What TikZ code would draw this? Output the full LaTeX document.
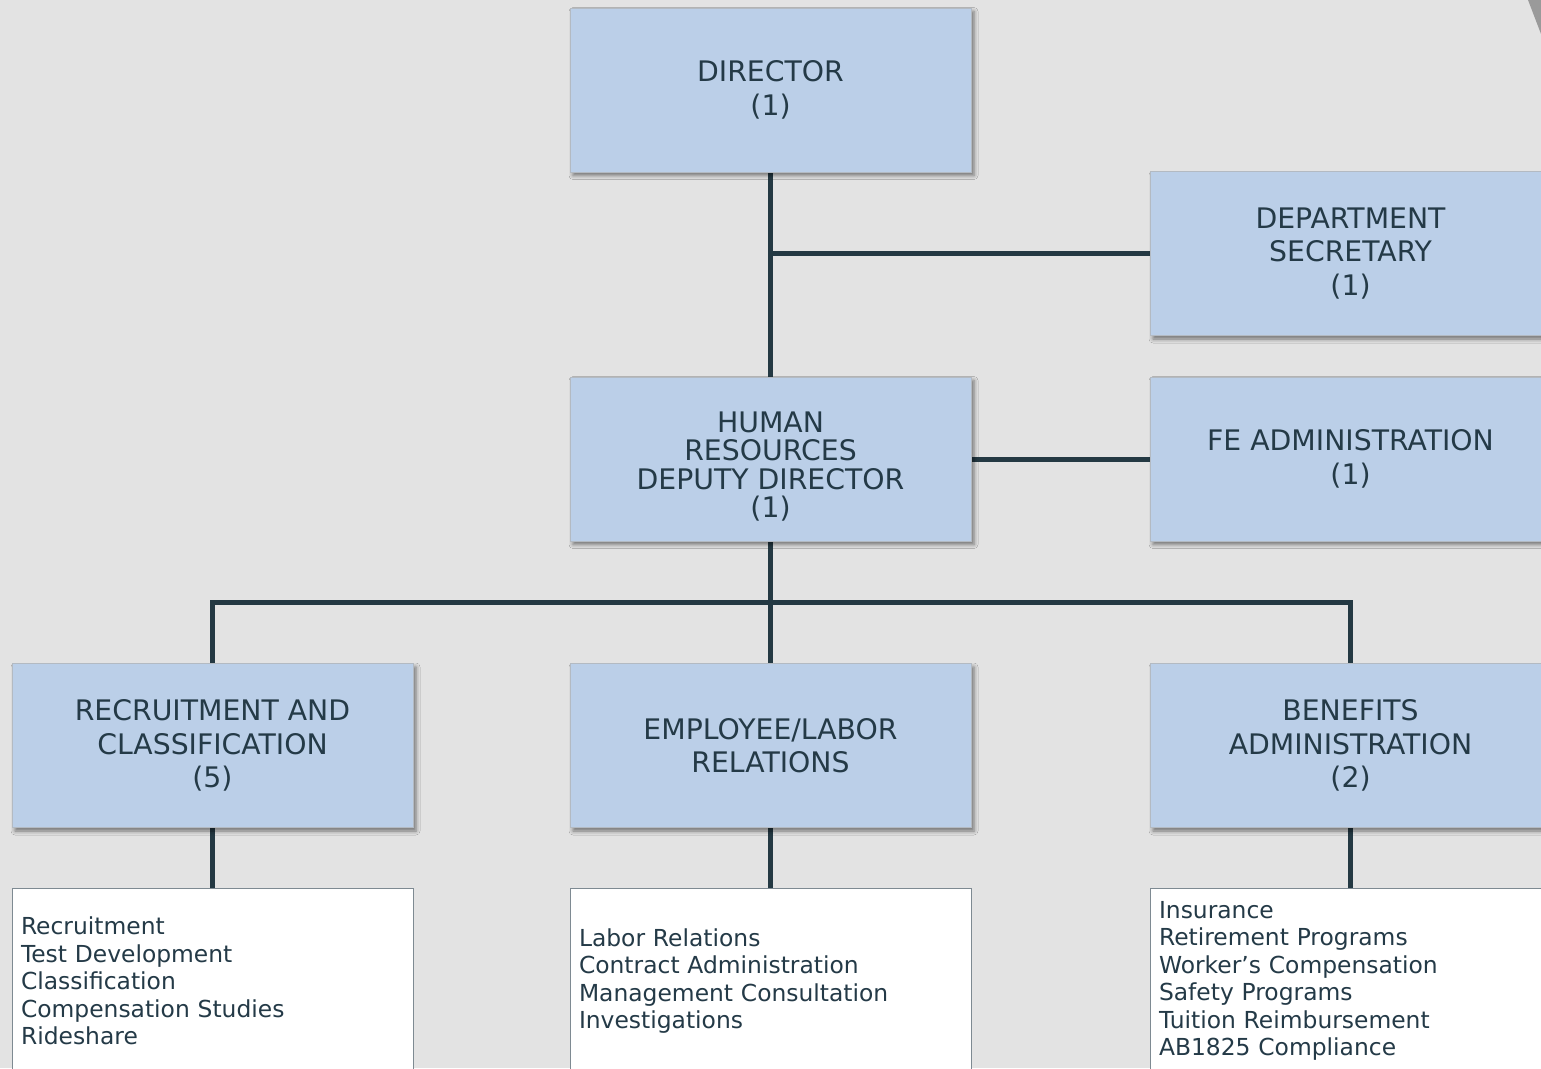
\documentclass[tikz,border=0pt]{standalone}
\usepackage{fontspec}
\setmainfont{DejaVu Sans}
\usetikzlibrary{shadows.blur,backgrounds}
\definecolor{pagebg}{HTML}{E3E3E3}
\definecolor{unitfill}{HTML}{BBCFE8}
\definecolor{unitedge}{HTML}{B3BAC2}
\definecolor{ink}{HTML}{243A47}
\definecolor{wire}{HTML}{243943}
\definecolor{listedge}{HTML}{7E8A92}
\definecolor{corner}{HTML}{9A9A9A}
\tikzset{
  unit/.style={draw=unitedge, line width=0.8pt, fill=unitfill, text=ink,
    minimum width=401pt, minimum height=164pt, inner sep=0pt, align=center,
    font=\fontsize{28.3}{33.5}\selectfont,
    blur shadow={shadow xshift=3pt, shadow yshift=-3.5pt, shadow blur radius=4pt, shadow opacity=50}},
  unittext/.style={text=ink, inner sep=0pt, align=center, font=\fontsize{28.3}{28.3}\selectfont},
  duties/.style={draw=listedge, line width=0.8pt, fill=white, text=ink,
    minimum width=401pt, minimum height=186pt, text width=383pt, inner xsep=9pt, inner ysep=0pt,
    align=left, font=\fontsize{23.4}{27.5}\selectfont},
  link/.style={draw=wire, line width=5pt}
}
\begin{document}
\begin{tikzpicture}[x=1pt,y=-1pt]
  \useasboundingbox (0,0) rectangle (1541,1068);
  \clip (0,0) rectangle (1541,1068);

  % junction on the division bus
  \coordinate (bus) at (770.5,602);

  % top level
  \node[unit] (dir) at (770.5,90) {DIRECTOR\\(1)};
  \node[unit] (dept) at (1350.5,253.5) {DEPARTMENT\\SECRETARY\\(1)};
  \node[unit] (hr) at (770.5,459) {};
  \node[unittext] (hrt) at (770.5,466.5) {HUMAN\\RESOURCES\\DEPUTY DIRECTOR\\(1)};
  \node[unit] (fe) at (1350.5,459) {FE ADMINISTRATION\\(1)};

  % divisions
  \node[unit] (rec) at (212.5,745.5) {RECRUITMENT AND\\CLASSIFICATION\\(5)};
  \node[unit] (emp) at (770.5,745.5) {EMPLOYEE/LABOR\\RELATIONS};
  \node[unit] (ben) at (1350.5,745.5) {BENEFITS\\ADMINISTRATION\\(2)};

  % duty lists
  \node[duties] (recl) at (212.5,981) {Recruitment\\Test Development\\Classification\\Compensation Studies\\Rideshare};
  \node[duties] (empl) at (770.5,981) {Labor Relations\\Contract Administration\\Management Consultation\\Investigations};
  \node[duties] (benl) at (1350.5,981) {Insurance\\Retirement Programs\\Worker’s Compensation\\Safety Programs\\Tuition Reimbursement\\AB1825 Compliance};

  % page and connectors, behind the boxes
  \begin{scope}[on background layer]
    \fill[pagebg] (0,0) rectangle (1541,1068);
    \fill[corner] (1528,0) -- (1541,0) -- (1541,34) -- cycle;
    \draw[link] (dir.south) -- (hr.north);
    \draw[link] (dept.west) -- (dept.west -| dir.south);
    \draw[link] (hr.east) -- (fe.west);
    \draw[link] (hr.south) -- (emp.north);
    \draw[link] (rec.north) |- (bus) -| (ben.north);
    \draw[link] (rec.south) -- (recl.north);
    \draw[link] (emp.south) -- (empl.north);
    \draw[link] (ben.south) -- (benl.north);
  \end{scope}
\end{tikzpicture}
\end{document}
